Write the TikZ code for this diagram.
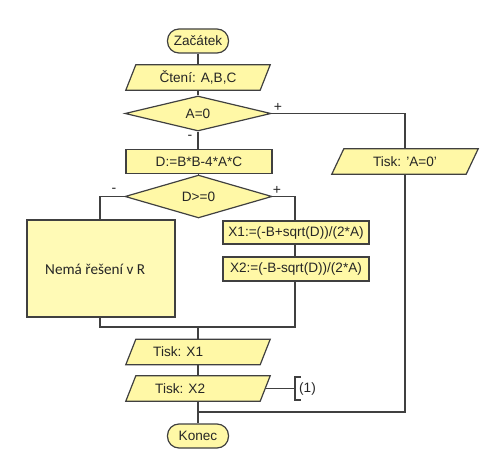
\documentclass[tikz,border=0pt]{standalone}
\usepackage{fontspec}
\setmainfont{Liberation Sans}
\newfontfamily\calibfont{Carlito}
\usetikzlibrary{calc,backgrounds,shapes.geometric}
\definecolor{fillY}{HTML}{FFF8A6}
\definecolor{fillN}{HTML}{FFFAB6}
\definecolor{lineC}{HTML}{404040}
\definecolor{txtC}{HTML}{262626}
\newcommand\ioshape[2]{\path[base] ($(#1.south west)+(-#2,0)$) -- ($(#1.south east)+(-#2,0)$) -- ($(#1.north east)+(#2,0)$) -- ($(#1.north west)+(#2,0)$) -- cycle;}
\begin{document}
\begin{tikzpicture}[x=1pt,y=-1pt,
  font=\fontsize{13.6}{15}\selectfont, text=txtC,
  base/.style={draw=lineC, line width=1.2pt, fill=fillY},
  conn/.style={draw=lineC, line width=1.2pt},
  term/.style={base, rectangle, rounded corners=11.5pt, minimum width=61pt, minimum height=24pt, inner sep=0pt},
  proc/.style={base, rectangle, minimum width=146pt, minimum height=24pt, inner sep=0pt},
  dec/.style={base, diamond, minimum width=146pt, minimum height=35pt, inner sep=0pt},
  iobody/.style={rectangle, minimum width=134pt, minimum height=25pt, inner sep=0pt},
  sign/.style={font=\fontsize{14}{14}\selectfont, inner sep=0pt}]
\useasboundingbox (0,0) rectangle (493,473);

% nodes
\node[term] (zac) at (198,41) {Začátek};
\node[iobody] (cteni) at (198,77.5) {Čtení: A,B,C};
\node[dec] (a0) at (198,113.5) {A=0};
\node[proc] (dd) at (199,161.5) {D:=B*B-4*A*C};
\node[iobody] (tiskA) at (405,161.5) {Tisk: 'A=0'};
\node[dec, minimum width=147pt, minimum height=34pt] (dge) at (198.5,196.5) {D>=0};
\node[base, fill=fillN, rectangle, minimum width=148pt, minimum height=97pt, inner sep=0pt] (nema) at (101,268.5) {};
\node[anchor=west, inner sep=0pt, font=\calibfont\fontsize{15.2}{17}\selectfont] (nemaT) at (45,269) {Nemá řešení v R};
\node[proc, minimum height=23pt] (x1) at (296,232.5) {X1:=(-B+sqrt(D))/(2*A)};
\node[proc] (x2) at (296,269) {X2:=(-B-sqrt(D))/(2*A)};
\node[iobody] (tx1) at (198,352) {};
\node[anchor=west, inner sep=0pt] (tx1T) at (153,352) {Tisk: X1};
\node[iobody] (tx2) at (198,388.5) {};
\node[anchor=west, inner sep=0pt] (tx2T) at (155,388.5) {Tisk: X2};
\node[term] (kon) at (198,436) {Konec};
\node[anchor=west, inner sep=0pt] (note) at (299,389) {(1)};

% sign labels
\node[sign] (pA) at (278,107) {+};
\node[sign] (mA) at (190,137) {-};
\node[sign] (mD) at (114,190) {-};
\node[sign] (pD) at (277,190) {+};

% junction coordinates
\coordinate (m1) at (100,327);
\coordinate (m2) at (295,327);
\coordinate (m3) at (198,327);
\coordinate (j2) at (198,412);
\coordinate (an) at (295,388.5);

\begin{scope}[on background layer]
  \draw[conn] (zac.south) -- (cteni.north);
  \draw[conn] (cteni.south) -- (a0.north);
  \draw[conn] (a0.south) -- (a0.south |- dd.north);
  \draw[conn] (a0.east) -| (tiskA.north);
  \draw[conn] (tiskA.south) |- (j2);
  \draw[conn] (dd.south -| dge.north) -- (dge.north);
  \draw[conn] (dge.west) -| (m1) -- (m2) |- (dge.east);
  \draw[conn] (m3) -- (tx1.north);
  \draw[conn] (tx1.south) -- (tx2.north);
  \draw[conn] (tx2.south) -- (kon.north);
  \draw[conn] (tx2.east) -- (an);
  \draw[conn] (301,377) -- (295,377) -- (295,400) -- (301,400);
  \ioshape{cteni}{5}
  \ioshape{tiskA}{6}
  \ioshape{tx1}{5}
  \ioshape{tx2}{5}
\end{scope}
\end{tikzpicture}
\end{document}
